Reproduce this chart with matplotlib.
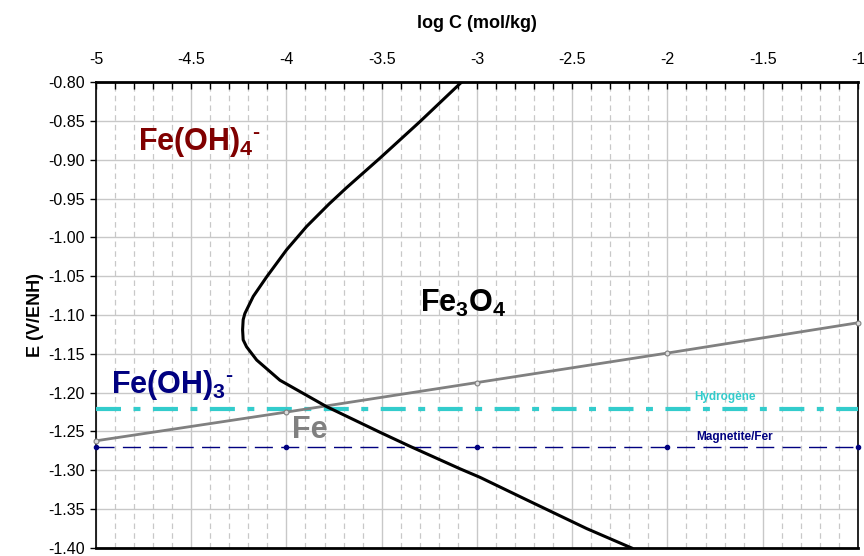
import numpy as np
import matplotlib.pyplot as plt
from matplotlib.ticker import MultipleLocator, FormatStrFormatter

plt.rcParams['font.family'] = ['Liberation Sans', 'DejaVu Sans']
plt.rcParams['mathtext.fontset'] = 'custom'
plt.rcParams['mathtext.rm'] = 'Liberation Sans'
plt.rcParams['mathtext.bf'] = 'Liberation Sans:bold'
plt.rcParams['mathtext.default'] = 'bf'
plt.rcParams['lines.scale_dashes'] = False

# solubility curve of Fe3O4
curve_logc = [-3.080, -3.299, -3.509, -3.684, -3.776, -3.894, -3.999, -4.104,
              -4.174, -4.218, -4.227, -4.230, -4.227, -4.209, -4.156, -4.034,
              -3.789, -3.509, -3.352, -3.089, -2.984, -2.739, -2.424, -2.188]
curve_e = [-0.800, -0.851, -0.898, -0.936, -0.957, -0.986, -1.016, -1.051,
           -1.076, -1.098, -1.106, -1.119, -1.132, -1.141, -1.158, -1.184,
           -1.218, -1.251, -1.269, -1.298, -1.309, -1.338, -1.375, -1.400]

# Fe / Fe3O4 boundary
fe_logc = [-5, -4, -3, -2, -1]
fe_e = [-1.262, -1.225, -1.187, -1.149, -1.110]

# horizontal reference lines
h2_e = -1.221
mag_logc = [-5, -4, -3, -2, -1]
mag_e = [-1.270, -1.270, -1.270, -1.270, -1.270]

fig = plt.figure(figsize=(8.64, 5.56), dpi=100)
ax = fig.add_axes([0.111, 0.0144, 0.882, 0.8381])

ax.set_xlim(-5, -1)
ax.set_ylim(-1.40, -0.80)

ax.xaxis.set_major_locator(MultipleLocator(0.5))
ax.xaxis.set_minor_locator(MultipleLocator(0.1))
ax.yaxis.set_major_locator(MultipleLocator(0.05))
ax.yaxis.set_major_formatter(FormatStrFormatter('%.2f'))
ax.xaxis.set_major_formatter(plt.FuncFormatter(lambda v, p: ('%g' % v)))

ax.xaxis.tick_top()
ax.xaxis.set_label_position('top')
ax.tick_params(axis='x', which='both', direction='in', length=5, width=1,
               labelsize=11.5, pad=11)
ax.tick_params(axis='y', which='major', direction='out', length=4, width=1,
               labelsize=11.5, pad=4)

ax.grid(which='major', axis='both', color='#c8c8c8', lw=1, ls='-')
ax.grid(which='minor', axis='x', color='#c8c8c8', lw=0.9, ls=(0, (4, 3)))
ax.set_axisbelow(True)

for s in ['top', 'bottom']:
    ax.spines[s].set_linewidth(2)
for s in ['left', 'right']:
    ax.spines[s].set_linewidth(1.2)

ax.set_xlabel('log C (mol/kg)', fontsize=13, fontweight='bold', labelpad=17)
ax.set_ylabel('E (V/ENH)', fontsize=13, fontweight='bold', labelpad=3)

ax.axhline(h2_e, color='#33cccc', lw=3, dashes=(18, 9, 5, 9), zorder=3)
ax.plot(mag_logc, mag_e, color='#000080', lw=1, dashes=(13, 6),
        marker='o', ms=3, zorder=3, clip_on=False)
ax.plot(fe_logc, fe_e, color='#808080', lw=2, marker='o', ms=3.5,
        mfc='#dddddd', mec='#808080', mew=0.8, zorder=4, clip_on=False)
ax.plot(curve_logc, curve_e, color='black', lw=2.2, zorder=5)

ax.text(-4.78, -0.877, 'Fe(OH)$_4$$^{\u2010}$', color='#800000', fontsize=22,
        fontweight='bold', va='center', ha='left')
ax.text(-4.92, -1.19, 'Fe(OH)$_3$$^{\u2010}$', color='#000080', fontsize=22,
        fontweight='bold', va='center', ha='left')
ax.text(-3.073, -1.085, r'Fe$_3$O$_4$', color='black', fontsize=22,
        fontweight='bold', va='center', ha='center')
ax.text(-3.97, -1.248, 'Fe', color='#808080', fontsize=22,
        fontweight='bold', va='center', ha='left')
ax.text(-1.698, -1.2055, 'Hydrogène', color='#33cccc', fontsize=8.5,
        fontweight='bold', va='center', ha='center')
ax.text(-1.646, -1.257, 'Magnetite/Fer', color='#000080', fontsize=8.5,
        fontweight='bold', va='center', ha='center')

fig.savefig('out.png', dpi=100)
